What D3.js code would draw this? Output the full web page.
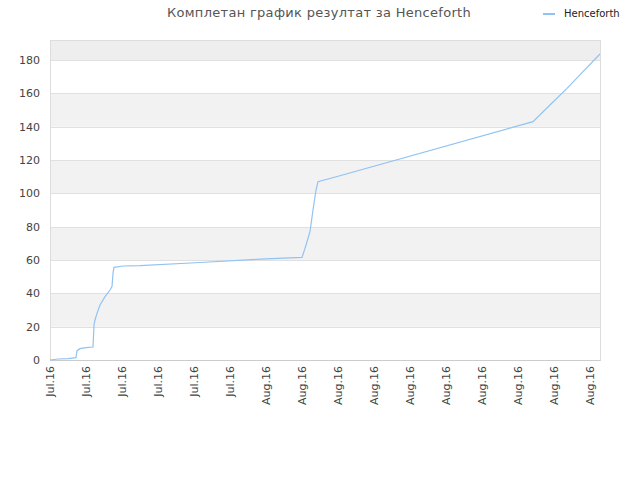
<!DOCTYPE html>
<html>
<head>
<meta charset="utf-8">
<script src="https://cdn.jsdelivr.net/npm/d3@7"></script>
<style>
  body { margin: 0; background: #fff; }
  svg { display: block; }
</style>
</head>
<body>
<svg id="chart"></svg>
<script>
// data
const seriesName = "Henceforth";
const timestamps = [
  "2016-07-14T00:00", "2016-07-14T16:00", "2016-07-15T12:00", "2016-07-16T04:00",
  "2016-07-16T06:00", "2016-07-16T12:00", "2016-07-17T00:00", "2016-07-17T14:00",
  "2016-07-17T16:00", "2016-07-17T18:00", "2016-07-17T22:00", "2016-07-18T04:00",
  "2016-07-18T14:00", "2016-07-19T00:00", "2016-07-19T04:00", "2016-07-19T06:00",
  "2016-07-19T08:00", "2016-07-20T02:00", "2016-07-21T12:00", "2016-07-26T12:00",
  "2016-07-31T12:00", "2016-08-04T00:00", "2016-08-04T06:00", "2016-08-04T16:00",
  "2016-08-04T22:00", "2016-08-05T04:00", "2016-08-05T08:00", "2016-08-07T02:00",
  "2016-08-23T06:00", "2016-08-24T16:00", "2016-08-26T02:00", "2016-08-27T10:00",
  "2016-08-28T20:00"
];
const scores = [
  0, 0.6, 0.8, 1.4,
  5.6, 6.8, 7.4, 7.8,
  21, 24, 28, 33,
  38, 42, 44, 52,
  55.6, 56.4, 56.6, 58.5,
  60.5, 61.6, 67, 77,
  90, 102, 107, 110.4,
  143, 153, 163, 173,
  183.6
];
const tickDays = [
  "2016-07-14", "2016-07-17", "2016-07-20", "2016-07-23", "2016-07-26", "2016-07-29",
  "2016-08-01", "2016-08-04", "2016-08-07", "2016-08-10", "2016-08-13", "2016-08-16",
  "2016-08-19", "2016-08-22", "2016-08-25", "2016-08-28"
];
const yTicks = [0, 20, 40, 60, 80, 100, 120, 140, 160, 180];
const yMax = 192;

const width = 640, height = 480;
const margin = { top: 40, right: 40, bottom: 120, left: 50 };
const innerW = width - margin.left - margin.right;
const innerH = height - margin.top - margin.bottom;
const lineColor = "#90c3f3";

const parseTime = d3.utcParse("%Y-%m-%dT%H:%M");
const parseDay = d3.utcParse("%Y-%m-%d");
const data = timestamps.map((t, i) => ({ date: parseTime(t), value: scores[i] }));
const ticks = tickDays.map(parseDay);

const svg = d3.select("#chart").attr("width", width).attr("height", height);

const x = d3.scaleUtc()
  .domain([parseDay(tickDays[0]), data[data.length - 1].date])
  .range([0, innerW]);
const y = d3.scaleLinear().domain([0, yMax]).range([innerH, 0]);

const g = svg.append("g")
  .attr("transform", "translate(" + margin.left + "," + margin.top + ")");

// alternating bands
const bands = d3.range(0, yMax, 20);
g.append("g").selectAll("rect")
  .data(bands)
  .enter()
  .append("rect")
  .attr("x", 0)
  .attr("width", innerW)
  .attr("y", (d) => y(Math.min(d + 20, yMax)))
  .attr("height", (d) => y(d) - y(Math.min(d + 20, yMax)))
  .attr("fill", (d, i) => {
    if (i % 2 === 0) return "#ffffff";
    return d + 20 > yMax ? "#eeeeee" : "#f2f2f2";
  });

// grid lines
g.append("g").selectAll("line")
  .data(yTicks.slice(1))
  .enter()
  .append("line")
  .attr("x1", 0)
  .attr("x2", innerW)
  .attr("y1", (d) => Math.round(y(d)) + 0.5)
  .attr("y2", (d) => Math.round(y(d)) + 0.5)
  .attr("stroke", "#e0e0e0")
  .attr("stroke-width", 1);

// plot frame
g.append("rect")
  .attr("x", 0.5)
  .attr("y", 0.5)
  .attr("width", innerW)
  .attr("height", innerH)
  .attr("fill", "none")
  .attr("stroke", "#dddddd");

// y axis
const yAxis = d3.axisLeft(y).tickValues(yTicks).tickSize(0).tickPadding(10);
g.append("g")
  .call(yAxis)
  .call((s) => s.select(".domain").remove())
  .selectAll("text")
  .attr("font-family", "DejaVu Sans, sans-serif")
  .attr("font-size", "11px")
  .attr("fill", "#444");

// x axis
const xAxis = d3.axisBottom(x).tickValues(ticks).tickSize(0)
  .tickFormat(d3.utcFormat("%b.%y"));
const xg = g.append("g")
  .attr("transform", "translate(0," + innerH + ")")
  .call(xAxis);
xg.select(".domain").attr("stroke", "#cccccc");
xg.selectAll("text")
  .attr("font-family", "DejaVu Sans, sans-serif")
  .attr("font-size", "11px")
  .attr("fill", "#444")
  .attr("text-anchor", "end")
  .attr("dy", "0.35em")
  .attr("transform", "translate(0,6) rotate(-90)")
  .attr("x", 0)
  .attr("y", 0);

// the line
const line = d3.line()
  .x((d) => x(d.date))
  .y((d) => y(d.value));
g.append("path")
  .datum(data)
  .attr("fill", "none")
  .attr("stroke", lineColor)
  .attr("stroke-width", 1.2)
  .attr("d", line);

// title
svg.append("text")
  .attr("x", 319)
  .attr("y", 17)
  .attr("text-anchor", "middle")
  .attr("font-family", "DejaVu Sans, sans-serif")
  .attr("font-size", "13px")
  .attr("letter-spacing", "0.3px")
  .attr("fill", "#555")
  .text("Комплетан график резултат за " + seriesName);

// legend
const legend = svg.append("g").attr("transform", "translate(543,13)");
legend.append("line")
  .attr("x1", 0).attr("x2", 12)
  .attr("y1", 1).attr("y2", 1)
  .attr("stroke", lineColor)
  .attr("stroke-width", 2);
legend.append("text")
  .attr("x", 21)
  .attr("y", 3.5)
  .attr("font-family", "DejaVu Sans, sans-serif")
  .attr("font-size", "10px")
  .attr("fill", "#222")
  .text(seriesName);
</script>
</body>
</html>
